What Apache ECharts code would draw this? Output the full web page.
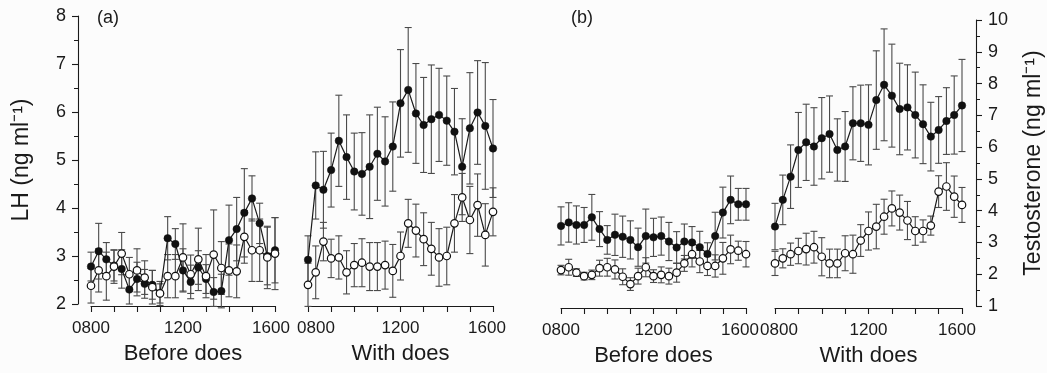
<!DOCTYPE html>
<html>
<head>
<meta charset="utf-8">
<script src="https://cdn.jsdelivr.net/npm/echarts@6/dist/echarts.min.js"></script>
<style>
html,body{margin:0;padding:0;background:#fcfcfc;}
#chart{width:1047px;height:373px;}
</style>
</head>
<body>
<div id="chart"></div>
<script>
// ---- data ----
const times = ['0800','0820','0840','0900','0920','0940','1000','1020','1040','1100','1120','1140','1200',
               '1220','1240','1300','1320','1340','1400','1420','1440','1500','1520','1540','1600'];

const lhBeforeFilled   = [2.78,3.10,2.93,2.80,2.73,2.30,2.52,2.42,2.40,2.22,3.37,3.25,2.70,2.46,2.76,2.52,2.25,2.27,3.33,3.56,3.90,4.20,3.68,3.00,3.12];
const lhBeforeFilledSE = [0.30,0.58,0.35,0.32,0.40,0.30,0.35,0.30,0.30,0.25,0.45,0.32,0.45,0.35,0.35,0.30,0.30,0.35,0.73,0.66,0.92,0.47,0.42,0.60,0.68];
const lhBeforeOpen     = [2.38,2.70,2.58,2.78,3.05,2.62,2.70,2.55,2.35,2.22,2.58,2.58,2.97,2.62,2.93,2.58,3.03,2.75,2.70,2.68,3.40,3.12,3.12,2.97,3.05];
const lhBeforeOpenSE   = [0.36,0.45,0.50,0.35,0.44,0.35,0.45,0.35,0.35,0.20,0.45,0.45,0.70,0.40,0.65,0.45,0.93,0.55,0.55,0.55,0.55,0.65,0.65,0.65,0.75];

const lhWithFilled   = [2.92,4.47,4.38,4.79,5.40,5.06,4.76,4.71,4.86,5.13,4.97,5.28,6.18,6.46,5.97,5.73,5.85,5.94,5.82,5.59,4.86,5.66,5.99,5.71,5.24];
const lhWithFilledSE = [0.50,0.70,0.80,0.77,0.95,0.88,0.80,0.86,1.08,0.97,0.93,0.93,1.12,1.30,1.04,0.99,1.13,0.97,0.93,0.90,1.00,1.16,1.08,1.32,1.02];
const lhWithOpen     = [2.40,2.66,3.30,2.95,2.97,2.66,2.81,2.86,2.78,2.78,2.81,2.69,3.00,3.68,3.53,3.35,3.15,2.97,3.00,3.68,4.22,3.75,4.06,3.44,3.92];
const lhWithOpenSE   = [0.45,0.55,0.40,0.40,0.45,0.45,0.45,0.50,0.50,0.50,0.50,0.55,0.50,0.50,0.55,0.55,0.55,0.60,0.60,0.60,0.50,0.70,0.65,0.65,0.50];

const tBeforeFilled   = [3.52,3.63,3.55,3.55,3.79,3.42,3.08,3.24,3.18,3.08,2.85,3.20,3.16,3.20,3.03,2.84,3.03,3.00,2.85,2.64,3.20,3.94,4.34,4.20,4.20];
const tBeforeFilledSE = [0.60,0.62,0.60,0.55,0.72,0.55,0.45,0.65,0.65,0.60,0.60,0.85,0.60,0.60,0.60,0.50,0.55,0.50,0.50,0.35,0.75,0.80,0.75,0.50,0.50];
const tBeforeOpen     = [2.13,2.22,2.05,1.94,1.98,2.19,2.22,2.15,1.92,1.69,1.94,2.22,1.94,1.98,1.94,2.05,2.34,2.63,2.40,2.26,2.26,2.50,2.78,2.74,2.63];
const tBeforeOpenSE   = [0.15,0.25,0.12,0.12,0.15,0.25,0.28,0.30,0.25,0.20,0.25,0.30,0.20,0.25,0.25,0.30,0.25,0.40,0.35,0.30,0.35,0.50,0.45,0.30,0.40];

const tWithFilled   = [3.50,4.34,5.07,5.91,6.15,6.02,6.28,6.41,5.91,6.02,6.75,6.75,6.70,7.48,7.96,7.62,7.20,7.25,7.01,6.72,6.33,6.54,6.82,7.01,7.31];
const tWithFilledSE = [0.73,0.78,1.00,1.18,1.20,1.22,1.28,1.20,0.98,1.10,1.15,1.20,1.26,1.55,1.76,1.62,1.44,1.34,1.35,1.24,1.08,1.05,1.05,1.23,1.45];
const tWithOpen     = [2.34,2.50,2.63,2.73,2.79,2.85,2.55,2.34,2.34,2.66,2.63,3.06,3.36,3.50,3.81,4.07,3.94,3.69,3.36,3.36,3.53,4.60,4.76,4.44,4.18];
const tWithOpenSE   = [0.38,0.30,0.35,0.40,0.50,0.50,0.60,0.45,0.45,0.55,0.60,0.50,0.60,0.70,0.55,0.55,0.55,0.60,0.45,0.35,0.30,0.50,0.75,0.65,0.55];

const panelTitles = ['Before does','With does','Before does','With does'];
const lhName = 'LH (ng ml\u207B\u00B9)';
const tName = 'Testosterone (ng ml\u207B\u00B9)';

// ---- layout / style ----
const INK = '#1a1a1a';
const BAR = '#4a4a4a';
const FONT = '"Liberation Sans", Arial, sans-serif';
const grids = [
  {left: 91,  width: 184, top: 16, height: 288},
  {left: 308, width: 185, top: 16, height: 288},
  {left: 561, width: 185, top: 20, height: 286},
  {left: 775, width: 187, top: 20, height: 286}
];
// label nudges [first, last] to mimic hand-placed tick labels
const labelNudge = [[0, 8], [16, 12], [0, 12], [8, 10]];

const panels = [
  {filled: lhBeforeFilled, fse: lhBeforeFilledSE, open: lhBeforeOpen, ose: lhBeforeOpenSE},
  {filled: lhWithFilled,   fse: lhWithFilledSE,   open: lhWithOpen,   ose: lhWithOpenSE},
  {filled: tBeforeFilled,  fse: tBeforeFilledSE,  open: tBeforeOpen,  ose: tBeforeOpenSE},
  {filled: tWithFilled,    fse: tWithFilledSE,    open: tWithOpen,    ose: tWithOpenSE}
];

function errRender(params, api) {
  const i = api.value(0), y = api.value(1), se = api.value(2);
  const hi = api.coord([i, y + se]);
  const lo = api.coord([i, y - se]);
  const w = 3.5;
  const st = {stroke: BAR, lineWidth: 1.1};
  return {type: 'group', children: [
    {type: 'line', shape: {x1: hi[0], y1: hi[1], x2: lo[0], y2: lo[1]}, style: st},
    {type: 'line', shape: {x1: hi[0] - w, y1: hi[1], x2: hi[0] + w, y2: hi[1]}, style: st},
    {type: 'line', shape: {x1: lo[0] - w, y1: lo[1], x2: lo[0] + w, y2: lo[1]}, style: st}
  ]};
}

const xAxes = grids.map((g, k) => ({
  type: 'category', gridIndex: k, data: times, boundaryGap: false, offset: 2,
  axisLine: {lineStyle: {color: INK, width: 1.1}},
  axisTick: {interval: 2, length: 6, lineStyle: {color: INK, width: 1.1}},
  axisLabel: {
    interval: 11, margin: 14, color: INK, fontSize: 17, fontFamily: FONT,
    formatter: (v, idx) => idx === 0 ? '{a|' + v + '}' : (idx === times.length - 1 ? '{b|' + v + '}' : v),
    rich: {
      a: {fontSize: 17, fontFamily: FONT, color: INK, padding: [0, 0, 0, labelNudge[k][0]]},
      b: {fontSize: 17, fontFamily: FONT, color: INK, padding: [0, labelNudge[k][1], 0, 0]}
    }
  },
  splitLine: {show: false},
  name: panelTitles[k], nameLocation: 'middle', nameGap: 37,
  nameTextStyle: {fontSize: 22, color: INK, fontFamily: FONT}
}));

const yCommon = {
  type: 'value', interval: 1, splitLine: {show: false},
  axisLine: {show: true, lineStyle: {color: INK, width: 1.1}},
  axisTick: {show: true, length: 6, lineStyle: {color: INK, width: 1.1}},
  minorTick: {show: true, splitNumber: 2, length: 4, lineStyle: {color: INK, width: 1}},
  axisLabel: {fontSize: 18, color: INK, fontFamily: FONT, margin: 12},
  nameLocation: 'middle', nameRotate: 90,
  nameTextStyle: {fontSize: 23, color: INK, fontFamily: FONT}
};
const yAxes = [
  Object.assign({}, yCommon, {gridIndex: 0, min: 2, max: 8, position: 'left', offset: 13, name: lhName, nameGap: 45}),
  {type: 'value', gridIndex: 1, min: 2, max: 8, show: false},
  {type: 'value', gridIndex: 2, min: 1, max: 10, show: false},
  Object.assign({}, yCommon, {gridIndex: 3, min: 1, max: 10, position: 'right', offset: 14, name: tName, nameGap: 46})
];

const series = [];
panels.forEach((p, k) => {
  series.push({
    type: 'custom', xAxisIndex: k, yAxisIndex: k, renderItem: errRender, z: 1, silent: true,
    encode: {x: 0, y: 1},
    data: p.filled.map((v, i) => [i, v, p.fse[i]])
  });
  series.push({
    type: 'custom', xAxisIndex: k, yAxisIndex: k, renderItem: errRender, z: 1, silent: true,
    encode: {x: 0, y: 1},
    data: p.open.map((v, i) => [i, v, p.ose[i]])
  });
  series.push({
    type: 'line', xAxisIndex: k, yAxisIndex: k, data: p.filled, z: 3,
    symbol: 'circle', symbolSize: 7.5, showSymbol: true, showAllSymbol: true,
    lineStyle: {color: INK, width: 1.2},
    itemStyle: {color: '#111', borderColor: '#111', borderWidth: 0.5}
  });
  series.push({
    type: 'line', xAxisIndex: k, yAxisIndex: k, data: p.open, z: 4,
    symbol: 'circle', symbolSize: 7.5, showSymbol: true, showAllSymbol: true,
    lineStyle: {color: INK, width: 1.2},
    itemStyle: {color: '#fff', borderColor: '#111', borderWidth: 1.2}
  });
});

const chart = echarts.init(document.getElementById('chart'), null, {renderer: 'canvas'});
chart.setOption({
  backgroundColor: '#fcfcfc',
  animation: false,
  textStyle: {fontFamily: FONT},
  grid: grids,
  xAxis: xAxes,
  yAxis: yAxes,
  series: series,
  graphic: [
    {type: 'text', left: 97, top: 9, style: {text: '(a)', fontSize: 18, fill: INK, fontFamily: FONT}},
    {type: 'text', left: 571, top: 9, style: {text: '(b)', fontSize: 18, fill: INK, fontFamily: FONT}}
  ]
});
</script>
</body>
</html>
